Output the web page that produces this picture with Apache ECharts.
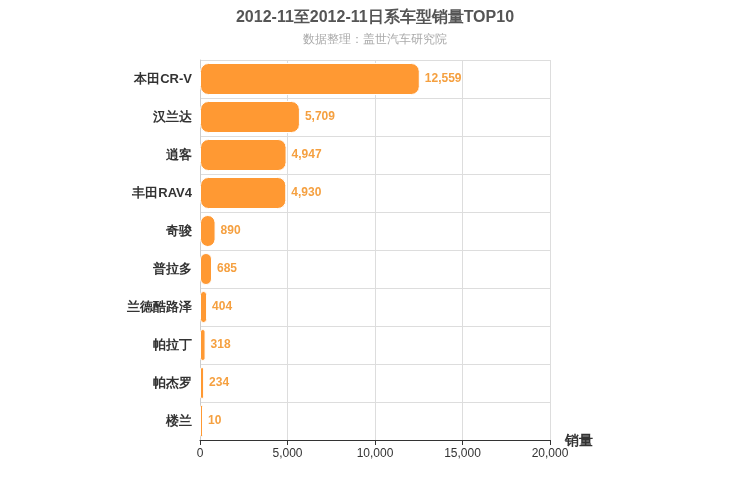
<!DOCTYPE html>
<html><head><meta charset="utf-8">
<script src="https://cdn.jsdelivr.net/npm/echarts@6/dist/echarts.min.js"></script>
<style>body{margin:0}#c{width:750px;height:500px}</style></head>
<body><div id="c"></div>
<script>
const categories = ['本田CR-V','汉兰达','逍客','丰田RAV4','奇骏','普拉多','兰德酷路泽','帕拉丁','帕杰罗','楼兰'];
const sales = [12559,5709,4947,4930,890,685,404,318,234,10];
const chart = echarts.init(document.getElementById('c'));
chart.setOption({
  title:{text:'2012-11至2012-11日系车型销量TOP10',subtext:'数据整理：盖世汽车研究院',left:'center',top:5,
    textStyle:{fontSize:16,fontWeight:'bold',color:'#555'},subtextStyle:{fontSize:12,color:'#aaa'},itemGap:8},
  grid:{left:200,right:200,top:60,bottom:60},
  xAxis:{type:'value',min:0,max:20000,interval:5000,name:'销量',nameLocation:'end',nameGap:15,
    nameTextStyle:{fontSize:14,fontWeight:'bold',color:'#333',verticalAlign:'bottom',padding:[0,0,-8,0]},
    axisLine:{show:true,lineStyle:{color:'#333'}},axisTick:{show:true},
    axisLabel:{color:'#333',formatter:v=>v.toLocaleString('en-US')},
    splitLine:{lineStyle:{color:'#ddd'}}},
  yAxis:{type:'category',inverse:true,data:categories,
    axisLine:{lineStyle:{color:'#ccc'}},axisTick:{show:false},
    axisLabel:{color:'#333',fontSize:13,fontWeight:'bold'},
    splitLine:{show:true,lineStyle:{color:'#ddd'}}},
  series:[{type:'bar',data:sales,barWidth:32,barMinHeight:3,
    itemStyle:{color:'#ff9933',borderRadius:8,borderColor:'#fff',borderWidth:1},
    label:{show:true,position:'right',color:'#f5a040',fontWeight:'bold',fontSize:12,
      formatter:p=>p.value.toLocaleString('en-US')}}]
});
</script></body></html>
